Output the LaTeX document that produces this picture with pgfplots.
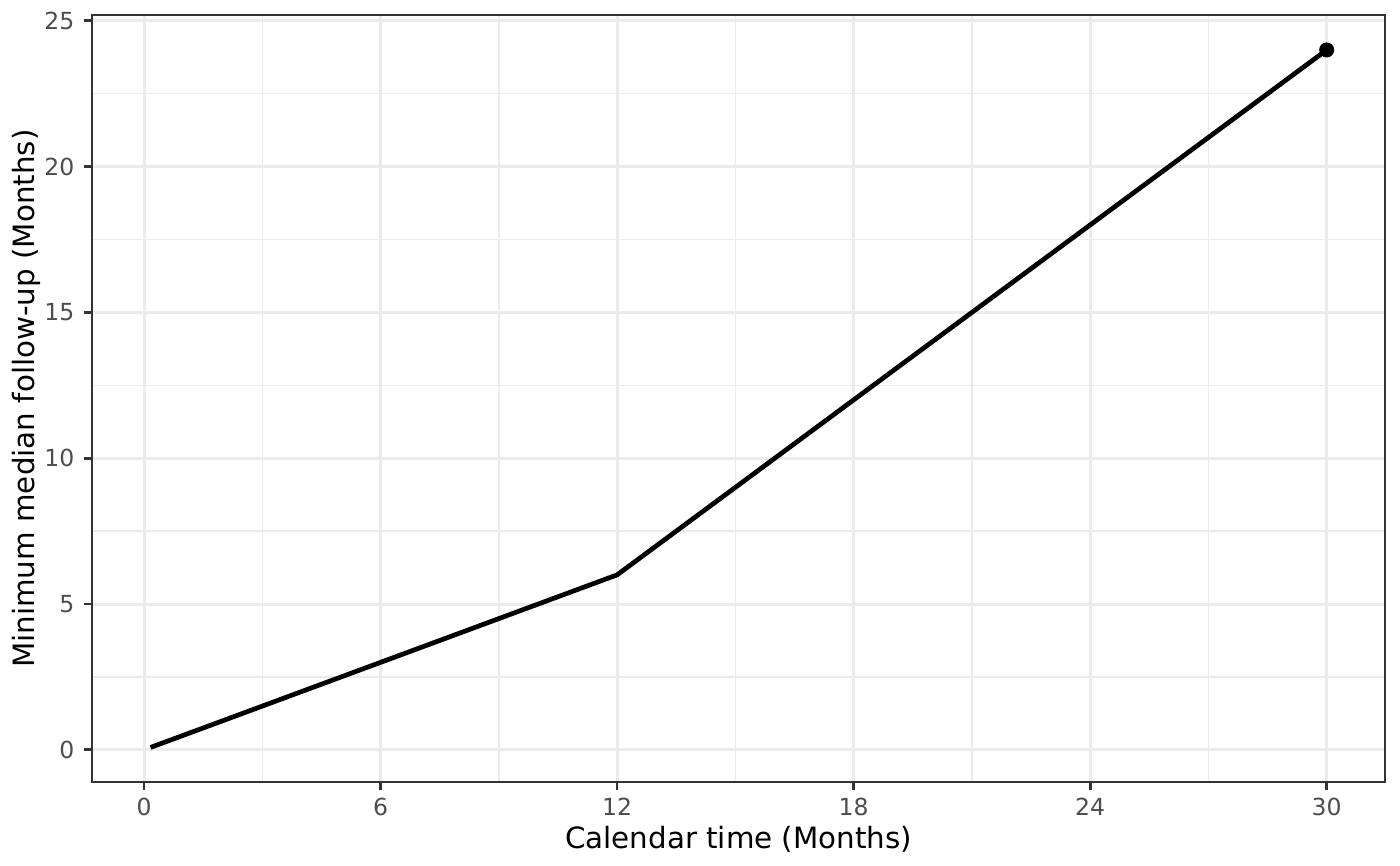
\documentclass[border=0pt]{standalone}
\usepackage{pgfplots}
\pgfplotsset{compat=1.18}
\usepackage{fontspec}
\setmainfont{DejaVu Sans}
\definecolor{gridc}{HTML}{EBEBEB}
\definecolor{grey20}{HTML}{333333}
\definecolor{grey30}{HTML}{4D4D4D}
\begin{document}
\begin{tikzpicture}
\useasboundingbox (0,0) rectangle (504bp,311.76bp);
\begin{axis}[
  at={(33.05bp,30.13bp)}, anchor=south west,
  scale only axis, width=465.7bp, height=276.2bp,
  xmin=-1.325, xmax=31.49, ymin=-1.113, ymax=25.196,
  xtick={0,6,...,30}, ytick={0,5,...,25},
  minor xtick={3,9,...,27}, minor ytick={2.5,7.5,...,22.5},
  grid=both,
  major grid style={gridc, line width=1.07pt},
  minor grid style={gridc, line width=0.53pt},
  minor tick length=0pt,
  major tick length=2.75pt,
  tick align=outside,
  xtick pos=bottom, ytick pos=left,
  tick style={grey20, line width=1.0pt},
  axis line style={grey20, line width=0.75pt},
  ticklabel style={font=\fontsize{8.5}{10}\selectfont, text=grey30},
  xticklabel style={yshift=0.6bp},
  /pgf/number format/assume math mode=true,
  label style={font=\fontsize{10.6}{12.5}\selectfont},
  xlabel={Calendar time (Months)},
  ylabel={Minimum median follow-up (Months)},
  xlabel style={at={(axis description cs:0.5,-0.0745)}, anchor=center},
  ylabel style={at={(axis description cs:-0.0505,0.5)}, anchor=center},
]
\addplot[black, line width=1.7bp, line join=round, no marks] coordinates {(0.1667,0.0833) (12,6) (30,24)};
\addplot[only marks, mark=*, mark size=2.5bp, black] coordinates {(30,24)};
\end{axis}
\end{tikzpicture}
\end{document}
